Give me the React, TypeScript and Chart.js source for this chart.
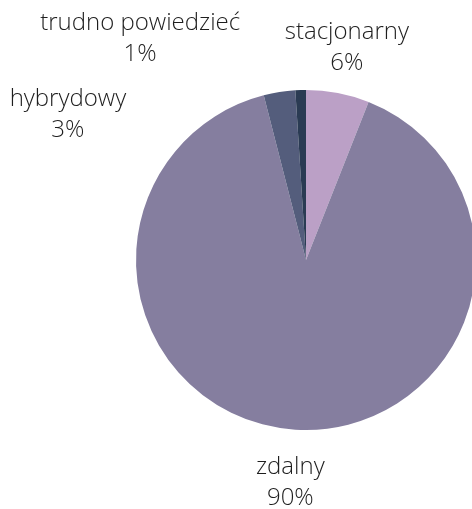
import React, { useEffect, useRef } from "react";
import { Chart, registerables } from "chart.js";

Chart.register(...registerables);

const categories = ["stacjonarny", "zdalny", "hybrydowy", "trudno powiedzieć"];
const values = [6, 90, 3, 1];
const percentLabels = ["6%", "90%", "3%", "1%"];
const colors = ["#BBA0C6", "#857E9F", "#545D7C", "#2A3B53"];
// manual nudges (px) applied to the radial label position
const labelShifts: [number, number][] = [
  [0, 0],
  [-2, 4],
  [-204, 68],
  [-159, -5],
];

const labelPlugin = {
  id: "outerLabels",
  afterDraw(chart: any) {
    const ctx = chart.ctx;
    const meta = chart.getDatasetMeta(0);
    ctx.save();
    ctx.font = "300 24px 'Open Sans'";
    ctx.fillStyle = "#1e1e1e";
    ctx.textAlign = "center";
    ctx.textBaseline = "middle";
    meta.data.forEach((arc: any, i: number) => {
      const p = arc.getProps(["x", "y", "startAngle", "endAngle", "outerRadius"], true);
      const mid = (p.startAngle + p.endAngle) / 2;
      const R = p.outerRadius + 48;
      const x = p.x + R * Math.cos(mid) + labelShifts[i][0];
      const y = p.y + R * Math.sin(mid) + labelShifts[i][1];
      ctx.fillText(categories[i], x, y - 14);
      ctx.fillText(percentLabels[i], x, y + 17);
    });
    ctx.restore();
  },
};

export default function App() {
  const ref = useRef<HTMLCanvasElement>(null);
  useEffect(() => {
    const chart = new Chart(ref.current!, {
      type: "pie",
      data: {
        labels: categories,
        datasets: [
          {
            data: values,
            backgroundColor: colors,
            borderWidth: 0,
          },
        ],
      },
      options: {
        animation: false,
        responsive: false,
        devicePixelRatio: 1,
        radius: 170,
        layout: { padding: 0 },
        plugins: {
          legend: { display: false },
          tooltip: { enabled: false },
        },
      },
      plugins: [labelPlugin],
    });
    return () => chart.destroy();
  }, []);
  return (
    <div
      style={{
        position: "fixed",
        left: 0,
        top: 0,
        width: 472,
        height: 509,
        overflow: "hidden",
        background: "#fff",
      }}
    >
      <canvas ref={ref} width={612} height={520} style={{ width: 612, height: 520, display: "block" }} />
    </div>
  );
}
